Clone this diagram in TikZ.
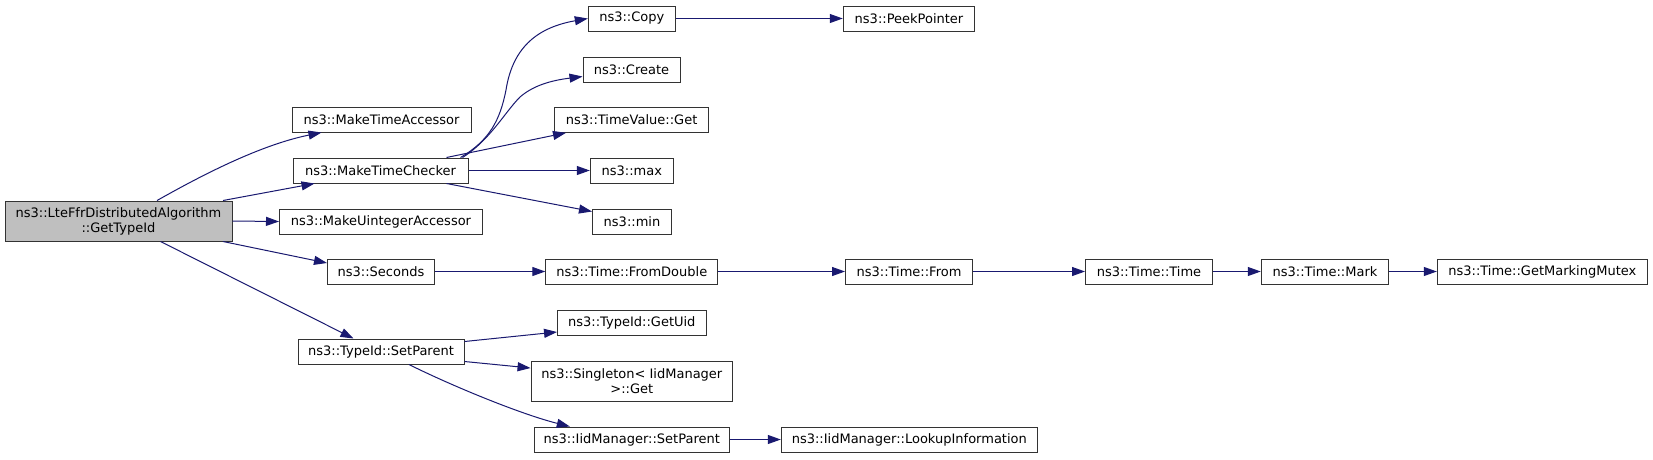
\documentclass[tikz,border=0pt]{standalone}
\usepackage{fontspec}
\setmainfont{DejaVu Sans}
\usetikzlibrary{arrows.meta}
\definecolor{edgec}{HTML}{191970}
\definecolor{boxc}{HTML}{333333}
\definecolor{mainfill}{HTML}{BFBFBF}
\begin{document}
\begin{tikzpicture}[x=1pt,y=-1pt,
  fn/.style={draw=boxc, line width=1pt, fill=white, inner sep=0pt, minimum height=25pt,
    font=\fontsize{13pt}{15pt}\selectfont, text=black, align=center},
  ed/.style={draw=edgec, line width=1pt, -{Triangle[length=13pt,width=9pt]}}]
\useasboundingbox[fill=white] (0,0) rectangle (1653,459);
% nodes
\node[fn, fill=mainfill, minimum width=227pt, minimum height=40pt] (main) at (118.5,221) {ns3::LteFfrDistributedAlgorithm\\::GetTypeId};
\node[fn, minimum width=179pt] (mta) at (381.5,119.5) {ns3::MakeTimeAccessor};
\node[fn, minimum width=175pt] (mtc) at (380.5,170.5) {ns3::MakeTimeChecker};
\node[fn, minimum width=203pt] (mua) at (381,221.5) {ns3::MakeUintegerAccessor};
\node[fn, minimum width=107pt] (sec) at (381,271.5) {ns3::Seconds};
\node[fn, minimum width=166pt] (tsp) at (381,351.5) {ns3::TypeId::SetParent};
\node[fn, minimum width=87pt] (copy) at (631.8,18.5) {ns3::Copy};
\node[fn, minimum width=131.5pt] (peek) at (909,18.5) {ns3::PeekPointer};
\node[fn, minimum width=97pt] (create) at (631.5,69.5) {ns3::Create};
\node[fn, minimum width=154pt] (tvget) at (631.6,119.8) {ns3::TimeValue::Get};
\node[fn, minimum width=83pt] (max) at (631.8,170.5) {ns3::max};
\node[fn, minimum width=79pt] (min) at (632,221.5) {ns3::min};
\node[fn, minimum width=172pt] (fromd) at (631.8,271.5) {ns3::Time::FromDouble};
\node[fn, minimum width=127pt] (from) at (909,271.5) {ns3::Time::From};
\node[fn, minimum width=148.5pt] (getuid) at (631.8,322.5) {ns3::TypeId::GetUid};
\node[fn, minimum width=201.5pt, minimum height=40pt] (single) at (631.8,381) {ns3::Singleton< IidManager\\ >::Get};
\node[fn, minimum width=195pt] (iidsp) at (631.8,439.5) {ns3::IidManager::SetParent};
\node[fn, minimum width=256pt] (lookup) at (909.3,439.5) {ns3::IidManager::LookupInformation};
\node[fn, minimum width=127pt] (ttime) at (1149,271.5) {ns3::Time::Time};
\node[fn, minimum width=127.5pt] (mark) at (1325,271.5) {ns3::Time::Mark};
\node[fn, minimum width=210pt] (gmm) at (1542.3,271.5) {ns3::Time::GetMarkingMutex};
% edges
\draw[ed] ([xshift=38.5pt]main.north) .. controls (190,182) and (255,146) .. ([xshift=-60pt]mta.south);
\draw[ed] ([xshift=104.5pt]main.north) -- ([xshift=-66pt]mtc.south);
\draw[ed] (main.east) -- (mua.west);
\draw[ed] ([xshift=104.5pt]main.south) -- ([yshift=8.5pt]sec.west);
\draw[ed] ([xshift=42pt]main.south) -- ([xshift=-27.5pt]tsp.north);
\draw[ed] ([xshift=80pt]mtc.north) .. controls (490,140) and (500,120) .. (506,90)
          .. controls (513,45) and (540,27) .. (copy.west);
\draw[ed] ([xshift=82pt]mtc.north) .. controls (490,140) and (505,112) .. (520,97)
          .. controls (535,84) and (555,80) .. ([yshift=-7pt]create.west);
\draw[ed] ([xshift=66pt]mtc.north) -- ([xshift=-65.6pt]tvget.south);
\draw[ed] (mtc.east) -- (max.west);
\draw[ed] ([xshift=66pt]mtc.south) -- ([yshift=10pt]min.west);
\draw[ed] (sec.east) -- (fromd.west);
\draw[ed] (fromd.east) -- (from.west);
\draw[ed] (from.east) -- (ttime.west);
\draw[ed] (ttime.east) -- (mark.west);
\draw[ed] (mark.east) -- (gmm.west);
\draw[ed] (copy.east) -- (peek.west);
\draw[ed] ([yshift=10pt]tsp.east) -- ([yshift=-9.5pt]getuid.west);
\draw[ed] ([yshift=-10pt]tsp.east) -- ([yshift=13pt]single.west);
\draw[ed] ([xshift=28pt]tsp.south) .. controls (450,385) and (520,414) .. ([xshift=-62pt]iidsp.north);
\draw[ed] (iidsp.east) -- (lookup.west);
\end{tikzpicture}
\end{document}
